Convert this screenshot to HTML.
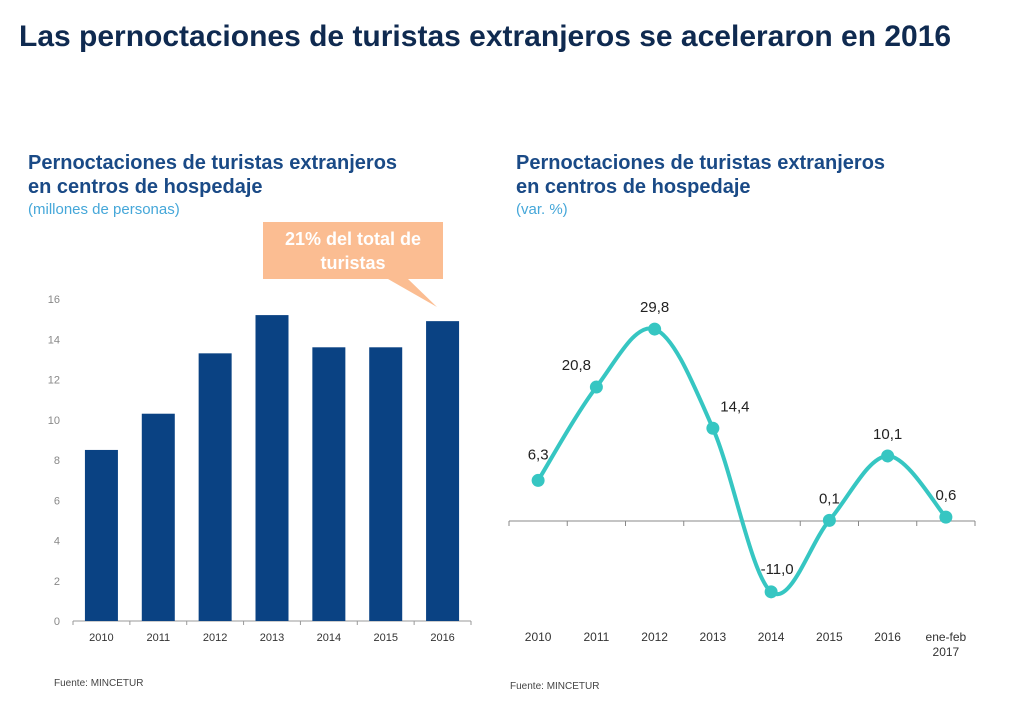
<!DOCTYPE html>
<html><head><meta charset="utf-8"><style>
body{margin:0;width:1024px;height:712px;background:#fff;font-family:"Liberation Sans",sans-serif;position:relative;overflow:hidden}
.a{position:absolute;margin:0}
</style></head><body>
<h1 class="a" style="left:19px;top:20px;font-size:30px;font-weight:bold;color:#0f2a50;white-space:nowrap">Las pernoctaciones de turistas extranjeros se aceleraron en 2016</h1>
<div class="a" style="left:28px;top:151px;font-size:20px;font-weight:bold;color:#1a4a86;line-height:24px">Pernoctaciones de turistas extranjeros<br>en centros de hospedaje</div>
<div class="a" style="left:28px;top:201px;font-size:15px;color:#45a7d9">(millones de personas)</div>
<div class="a" style="left:516px;top:151px;font-size:20px;font-weight:bold;color:#1a4a86;line-height:24px">Pernoctaciones de turistas extranjeros<br>en centros de hospedaje</div>
<div class="a" style="left:516px;top:201px;font-size:15px;color:#45a7d9">(var. %)</div>
<div class="a" style="left:54px;top:678px;font-size:10px;color:#444">Fuente: MINCETUR</div>
<div class="a" style="left:510px;top:681px;font-size:10px;color:#444">Fuente: MINCETUR</div>
<svg class="a" style="left:0;top:0" width="1024" height="712" id="svg">
<polygon points="263,222 443,222 443,279 408,279 437,307 388,279 263,279" fill="#fbbd92"/>
<text x="353" y="245" text-anchor="middle" font-size="18" font-weight="bold" fill="#fff" font-family="Liberation Sans">21% del total de</text>
<text x="353" y="269" text-anchor="middle" font-size="18" font-weight="bold" fill="#fff" font-family="Liberation Sans">turistas</text>
<g id="left"></g><g id="right"></g>
</svg>
<script>
const barCats=["2010","2011","2012","2013","2014","2015","2016"];
const barVals=[8.5,10.3,13.3,15.2,13.6,13.6,14.9];
const barTicks=[0,2,4,6,8,10,12,14,16];
const lineCats=["2010","2011","2012","2013","2014","2015","2016","ene-feb|2017"];
const lineVals=[6.3,20.8,29.8,14.4,-11.0,0.1,10.1,0.6];
const lineLabels=["6,3","20,8","29,8","14,4","-11,0","0,1","10,1","0,6"];
const NS="http://www.w3.org/2000/svg";
function mk(p,t,at,txt){const e=document.createElementNS(NS,t);for(const k in at)e.setAttribute(k,at[k]);if(txt!=null)e.textContent=txt;p.appendChild(e);return e;}
// left
const L=document.getElementById('left');
const lx0=73,lx1=471,ly0=621,ly16=299;
const ys=v=>ly0-(v/16)*(ly0-ly16);
const bw=(lx1-lx0)/barCats.length;
barTicks.forEach(t=>{const e=mk(L,'text',{x:60,y:ys(t)+4,'text-anchor':'end','font-size':11,fill:'#888','font-family':'Liberation Sans'},t);

});
const ax=mk(L,'line',{x1:lx0,x2:lx1,y1:ly0,y2:ly0,stroke:'#999'});


barCats.forEach((c,i)=>{
const cx=lx0+bw*(i+0.5);
const r=mk(L,'rect',{x:cx-16.5,y:ys(barVals[i]),width:33,height:ly0-ys(barVals[i]),fill:'#0a4283'});


const tk=mk(L,'line',{x1:lx0+bw*i,x2:lx0+bw*i,y1:ly0,y2:ly0+4,stroke:'#999'});


const t=mk(L,'text',{x:cx,y:641,'text-anchor':'middle','font-size':11,fill:'#333','font-family':'Liberation Sans'},c);


});
mk(L,'line',{x1:lx1,x2:lx1,y1:ly0,y2:ly0+4,stroke:'#999'});
// right
const R=document.getElementById('right');
const rx0=509,rx1=975,ry0=521,k=6.44;
const step=(rx1-rx0)/lineCats.length;
const rx=i=>rx0+step*(i+0.5), ry=v=>ry0-v*k;
const za=mk(R,'line',{x1:rx0,x2:rx1,y1:ry0,y2:ry0,stroke:'#888'});


for(let i=0;i<=lineCats.length;i++){mk(R,'line',{x1:rx0+step*i,x2:rx0+step*i,y1:ry0,y2:ry0+5,stroke:'#888'});}
const P=lineVals.map((v,i)=>[rx(i),ry(v)]);
let d='M'+P[0][0]+','+P[0][1];
for(let i=0;i<P.length-1;i++){const p0=P[Math.max(i-1,0)],p1=P[i],p2=P[i+1],p3=P[Math.min(i+2,P.length-1)];
const c1=[p1[0]+(p2[0]-p0[0])/6,p1[1]+(p2[1]-p0[1])/6],c2=[p2[0]-(p3[0]-p1[0])/6,p2[1]-(p3[1]-p1[1])/6];
d+=` C${c1[0]},${c1[1]} ${c2[0]},${c2[1]} ${p2[0]},${p2[1]}`;}
const ln=mk(R,'path',{d:d,fill:'none',stroke:'#36c6c2','stroke-width':4});


const offs=[[0,-21],[-20,-17],[0,-17],[22,-17],[6,-18],[0,-17],[0,-17],[0,-17]];
P.forEach((p,i)=>{
const c=mk(R,'circle',{cx:p[0],cy:p[1],r:6.5,fill:'#36c6c2'});


const t=mk(R,'text',{x:p[0]+offs[i][0],y:p[1]+offs[i][1],'text-anchor':'middle','font-size':15,fill:'#222','font-family':'Liberation Sans'},lineLabels[i]);


const parts=lineCats[i].split('|');
parts.forEach((s,j)=>{const e=mk(R,'text',{x:p[0],y:641+j*15,'text-anchor':'middle','font-size':12,fill:'#333','font-family':'Liberation Sans'},s);

});
});
</script>
</body></html>
